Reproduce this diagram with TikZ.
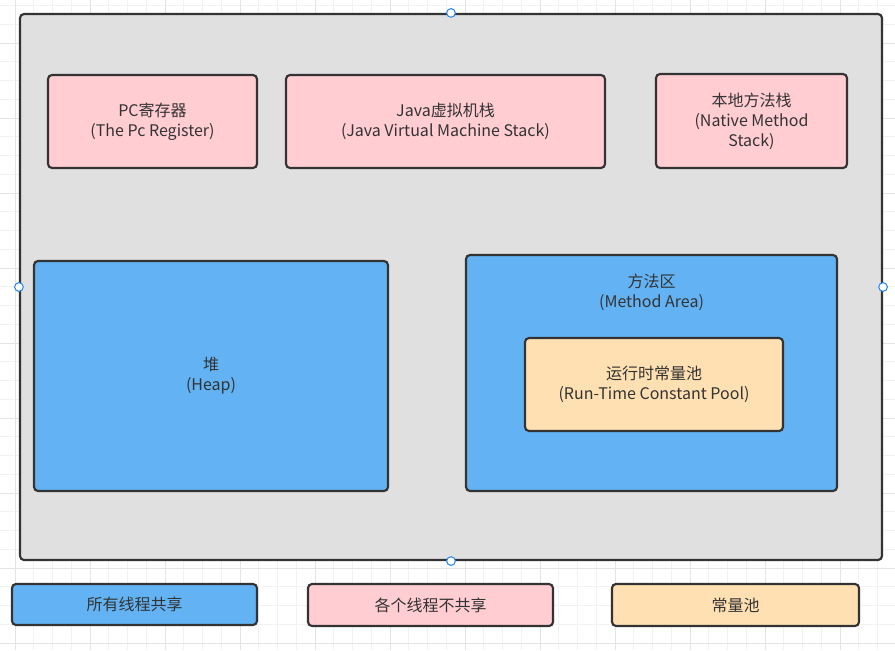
\documentclass[tikz,border=0pt]{standalone}
\usepackage{fontspec}
\setmainfont{Noto Sans CJK SC}
\usepackage{xcolor}
\usepackage{tikz}
\definecolor{edge}{HTML}{333333}
\definecolor{areagray}{HTML}{E0E0E0}
\definecolor{pinkfill}{HTML}{FFCDD2}
\definecolor{bluefill}{HTML}{63B3F4}
\definecolor{orangefill}{HTML}{FFE0B2}
\definecolor{handleblue}{HTML}{2B8AF0}
\definecolor{minorline}{HTML}{F2F2F2}
\definecolor{majorline}{HTML}{E4E4E4}

\begin{document}
\begin{tikzpicture}[x=0.75pt, y=-0.75pt,
  every node/.style={font=\fontsize{12}{15}\selectfont, text=edge, align=center},
  region/.style={draw=edge, line width=1.6pt, rounded corners=3pt, inner sep=0pt},
  handle/.style={circle, draw=handleblue, fill=white, line width=0.8pt, minimum size=6.5pt, inner sep=0pt}]
\useasboundingbox (0,0) rectangle (895,650);
\fill[white] (0,0) rectangle (895,650);
\foreach \i in {0,...,46} \draw[minorline, line width=0.6pt] ({15+18.75*\i},0) -- ({15+18.75*\i},650);
\foreach \i in {-2,...,32} \draw[minorline, line width=0.6pt] (0,{43+18.75*\i}) -- (895,{43+18.75*\i});
\foreach \i in {0,...,11} \draw[majorline, line width=0.6pt] ({15+75*\i},0) -- ({15+75*\i},650);
\foreach \i in {0,...,8} \draw[majorline, line width=0.6pt] (0,{43+75*\i}) -- (895,{43+75*\i});

\node[region, fill=areagray, minimum width=646.5pt, minimum height=409.5pt] (runtime) at (451,287) {};

\node[region, fill=pinkfill, minimum width=156.75pt, minimum height=69.75pt] (pc) at (152.5,121.5) {PC寄存器\\(The Pc Register)};
\node[region, fill=pinkfill, minimum width=239.25pt, minimum height=69.75pt] (jvmstack) at (445.5,121.5) {Java虚拟机栈\\(Java Virtual Machine Stack)};
\node[region, fill=pinkfill, minimum width=143.25pt, minimum height=70.5pt] (nativestack) at (751.5,121) {本地方法栈\\(Native Method\\Stack)};

\node[region, fill=bluefill, minimum width=265.5pt, minimum height=172.5pt] (heap) at (211,376) {堆\\(Heap)};
\node[region, fill=bluefill, minimum width=278.25pt, minimum height=177pt] (methodarea) at (651.5,373) {};
\node (methodlabel) at (651.5,292) {方法区\\(Method Area)};
\node[region, fill=orangefill, minimum width=193.5pt, minimum height=69.75pt] (constpool) at (654,384.5) {运行时常量池\\(Run-Time Constant Pool)};

\node[region, fill=bluefill, minimum width=183.75pt, minimum height=30.75pt] (sharedkey) at (134.5,604.5) {所有线程共享};
\node[region, fill=pinkfill, minimum width=183.75pt, minimum height=31.5pt] (privatekey) at (430.5,605) {各个线程不共享};
\node[region, fill=orangefill, minimum width=185.25pt, minimum height=31.5pt] (poolkey) at (735.5,605) {常量池};

\node[handle] (htop) at (runtime.north) {};
\node[handle] (hbottom) at (runtime.south) {};
\node[handle] (hleft) at (runtime.west) {};
\node[handle] (hright) at (runtime.east) {};
\end{tikzpicture}
\end{document}
